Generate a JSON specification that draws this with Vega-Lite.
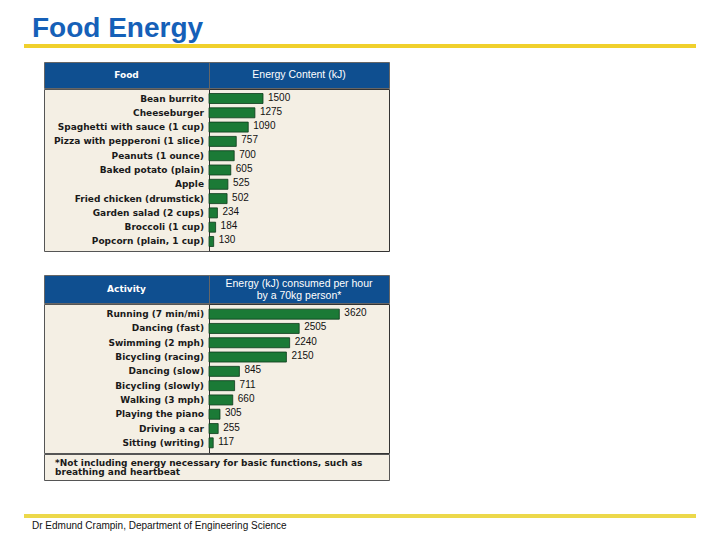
{
  "$schema": "https://vega.github.io/schema/vega-lite/v6.json",
  "background": "white",
  "padding": {"left": 24, "top": 15, "right": 0, "bottom": 0},
  "title": {"text": "Food Energy", "anchor": "start", "fontSize": 28, "font": "Liberation Sans", "fontWeight": "bold", "color": "#1560b8", "dx": 8, "offset": 1},
  "config": {"view": {"stroke": null}, "font": "Liberation Sans"},
  "datasets": {
    "food": [
      {"item": "Bean burrito", "kj": 1500},
      {"item": "Cheeseburger", "kj": 1275},
      {"item": "Spaghetti with sauce (1 cup)", "kj": 1090},
      {"item": "Pizza with pepperoni (1 slice)", "kj": 757},
      {"item": "Peanuts (1 ounce)", "kj": 700},
      {"item": "Baked potato (plain)", "kj": 605},
      {"item": "Apple", "kj": 525},
      {"item": "Fried chicken (drumstick)", "kj": 502},
      {"item": "Garden salad (2 cups)", "kj": 234},
      {"item": "Broccoli (1 cup)", "kj": 184},
      {"item": "Popcorn (plain, 1 cup)", "kj": 130}
    ],
    "activity": [
      {"item": "Running (7 min/mi)", "kj": 3620},
      {"item": "Dancing (fast)", "kj": 2505},
      {"item": "Swimming (2 mph)", "kj": 2240},
      {"item": "Bicycling (racing)", "kj": 2150},
      {"item": "Dancing (slow)", "kj": 845},
      {"item": "Bicycling (slowly)", "kj": 711},
      {"item": "Walking (3 mph)", "kj": 660},
      {"item": "Playing the piano", "kj": 305},
      {"item": "Driving a car", "kj": 255},
      {"item": "Sitting (writing)", "kj": 117}
    ]
  },
  "spacing": 13,
  "vconcat": [
    {"width": 672, "height": 4, "view": {"fill": "#f0d02c", "stroke": null}, "data": {"values": []}, "mark": "text"},
    {
      "spacing": 22,
      "vconcat": [
        {
          "spacing": 18,
          "hconcat": [
            {"width": 1, "height": 1, "data": {"values": []}, "mark": "text"},
            {
              "spacing": -2,
              "vconcat": [
                {
                  "spacing": 0,
                  "bounds": "flush",
                  "hconcat": [
                    {"width": 165, "height": 26, "view": {"fill": "#0f4f90", "stroke": "#666"}, "data": {"values": [{"t": "Food"}]}, "mark": {"type": "text", "color": "white", "fontWeight": "bold", "fontSize": 9, "font": "DejaVu Sans"}, "encoding": {"text": {"field": "t"}}},
                    {"width": 180, "height": 26, "view": {"fill": "#0f4f90", "stroke": "#666"}, "data": {"values": [{"t": "Energy Content (kJ)"}]}, "mark": {"type": "text", "color": "white", "fontSize": 10.5}, "encoding": {"text": {"field": "t"}}}
                  ]
                },
                {
                  "spacing": 0,
                  "bounds": "flush",
                  "hconcat": [
                    {
                      "width": 165, "height": 162, "view": {"fill": "#f4efe4", "stroke": "#555"},
                      "data": {"name": "food"},
                      "mark": {"type": "text", "align": "right", "dx": -5, "fontWeight": "bold", "fontSize": 9, "font": "DejaVu Sans", "color": "#1a1a1a"},
                      "encoding": {
                        "y": {"field": "item", "type": "nominal", "sort": null, "axis": null, "scale": {"type": "band", "paddingInner": 0.3, "paddingOuter": 0.315}},
                        "x": {"value": "width"},
                        "text": {"field": "item"}
                      }
                    },
                    {
                      "width": 180, "height": 162, "view": {"fill": "#f4efe4", "stroke": "#333"},
                      "data": {"name": "food"},
                      "encoding": {
                        "y": {"field": "item", "type": "nominal", "sort": null, "axis": null, "scale": {"type": "band", "paddingInner": 0.3, "paddingOuter": 0.315}},
                        "x": {"field": "kj", "type": "quantitative", "axis": null, "scale": {"domain": [0, 5000], "nice": false}}
                      },
                      "layer": [
                        {"mark": {"type": "bar", "fill": "#1b7a36", "stroke": "#0c3a1a", "strokeWidth": 0.8}},
                        {"mark": {"type": "text", "align": "left", "dx": 5, "dy": -1, "fontSize": 10, "color": "#111"}, "encoding": {"text": {"field": "kj", "type": "quantitative"}}}
                      ]
                    }
                  ]
                }
              ]
            }
          ]
        },
        {
          "spacing": 33,
          "vconcat": [
            {
              "spacing": 18,
              "hconcat": [
                {"width": 1, "height": 1, "data": {"values": []}, "mark": "text"},
                {
                  "spacing": -2,
                  "vconcat": [
                    {
                      "spacing": 0,
                      "bounds": "flush",
                      "hconcat": [
                        {"width": 165, "height": 28, "view": {"fill": "#0f4f90", "stroke": "#666"}, "data": {"values": [{"t": "Activity"}]}, "mark": {"type": "text", "color": "white", "fontWeight": "bold", "fontSize": 9, "font": "DejaVu Sans"}, "encoding": {"text": {"field": "t"}}},
                        {"width": 180, "height": 28, "view": {"fill": "#0f4f90", "stroke": "#666"}, "data": {"values": [{"t": "Energy (kJ) consumed per hour\nby a 70kg person*"}]}, "mark": {"type": "text", "color": "white", "fontSize": 10.5, "lineBreak": "\n", "lineHeight": 11.5, "dy": -5}, "encoding": {"text": {"field": "t"}}}
                      ]
                    },
                    {
                      "spacing": 0,
                      "bounds": "flush",
                      "hconcat": [
                        {
                          "width": 165, "height": 149, "view": {"fill": "#f4efe4", "stroke": "#555"},
                          "data": {"name": "activity"},
                          "mark": {"type": "text", "align": "right", "dx": -5, "fontWeight": "bold", "fontSize": 9, "font": "DejaVu Sans", "color": "#1a1a1a"},
                          "encoding": {
                            "y": {"field": "item", "type": "nominal", "sort": null, "axis": null, "scale": {"type": "band", "paddingInner": 0.3, "paddingOuter": 0.36}},
                            "x": {"value": "width"},
                            "text": {"field": "item"}
                          }
                        },
                        {
                          "width": 180, "height": 149, "view": {"fill": "#f4efe4", "stroke": "#333"},
                          "data": {"name": "activity"},
                          "encoding": {
                            "y": {"field": "item", "type": "nominal", "sort": null, "axis": null, "scale": {"type": "band", "paddingInner": 0.3, "paddingOuter": 0.36}},
                            "x": {"field": "kj", "type": "quantitative", "axis": null, "scale": {"domain": [0, 5000], "nice": false}}
                          },
                          "layer": [
                            {"mark": {"type": "bar", "fill": "#1b7a36", "stroke": "#0c3a1a", "strokeWidth": 0.8}},
                            {"mark": {"type": "text", "align": "left", "dx": 5, "dy": -1, "fontSize": 10, "color": "#111"}, "encoding": {"text": {"field": "kj", "type": "quantitative"}}}
                          ]
                        }
                      ]
                    },
                    {
                      "width": 345, "height": 26, "view": {"fill": "#f4efe4", "stroke": "#555"},
                      "data": {"values": [{"t": "*Not including energy necessary for basic functions, such as\nbreathing and heartbeat"}]},
                      "mark": {"type": "text", "align": "left", "dx": 11, "dy": -4.5, "fontWeight": "bold", "fontSize": 9, "font": "DejaVu Sans", "lineBreak": "\n", "lineHeight": 9.5, "color": "#1a1a1a"},
                      "encoding": {"x": {"value": 0}, "text": {"field": "t"}}
                    }
                  ]
                }
              ]
            },
            {
              "width": 672, "height": 4, "view": {"fill": "#ecd84a", "stroke": null}, "data": {"values": []}, "mark": "text",
              "title": {"text": "Dr Edmund Crampin, Department of Engineering Science", "orient": "bottom", "anchor": "start", "fontSize": 10, "fontWeight": "normal", "font": "Liberation Sans", "color": "#111", "dx": 8, "offset": 3}
            }
          ]
        }
      ]
    }
  ]
}
